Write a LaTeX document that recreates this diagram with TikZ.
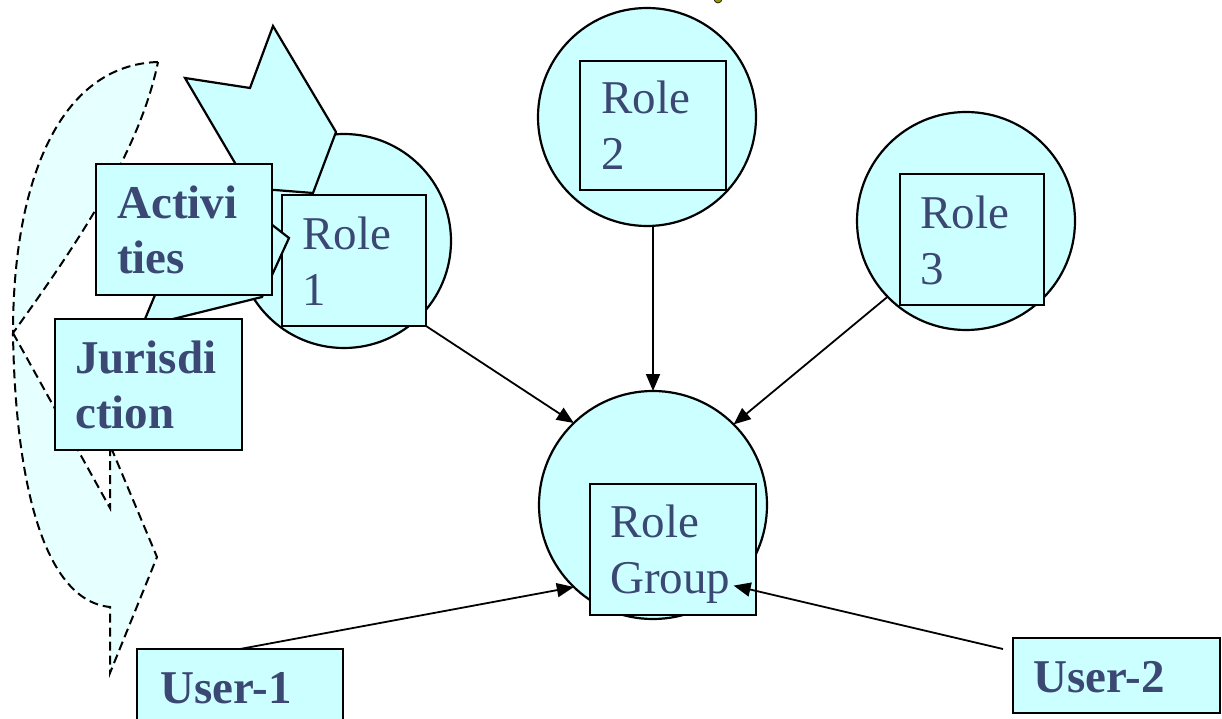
\documentclass[tikz,border=0pt]{standalone}
\usepackage{fontspec}
\setmainfont{Liberation Serif}
\usetikzlibrary{arrows.meta,calc}
\definecolor{cy}{RGB}{204,255,255}
\definecolor{lcy}{RGB}{230,255,255}
\definecolor{tx}{RGB}{59,72,115}
\definecolor{dot}{RGB}{150,150,0}
\begin{document}
\begin{tikzpicture}[x=1pt,y=-1pt,
  rolecirc/.style={circle,draw,line width=2.2pt,fill=cy,inner sep=0pt,outer sep=0pt,minimum size=#1},
  rolebox/.style={rectangle,draw,line width=2.2pt,fill=cy,inner sep=0pt,outer sep=0pt},
  lbl/.style={text=tx,font=\fontsize{47}{56}\selectfont,anchor=base west,align=left,inner sep=0pt},
  blbl/.style={text=tx,font=\fontsize{47}{55}\selectfont\bfseries,anchor=base west,align=left,inner sep=0pt},
  conn/.style={-{Triangle[length=17pt,width=14pt]},line width=1.8pt},
  dshape/.style={fill=lcy,draw,dash pattern=on 9pt off 5pt,line width=2pt,line join=miter},
  star/.style={fill=cy,draw,line width=2.2pt,line join=miter}
]
\useasboundingbox (0,0) rectangle (1222,719);
% small remnant dot at top
\filldraw[fill=dot,draw=black,line width=0.6pt] (718,-1) circle (4);
% dashed curved shape
\path[dshape] (158,62) .. controls (60,65) and (13,180) .. (13,333)
  .. controls (80,240) and (140,150) .. cycle;
\path[dshape] (13,333) -- (110,508) -- (110,445) -- (157,557) -- (110,673) -- (110,607)
  .. controls (40,600) and (15,470) .. cycle;
% Role 1
\node[rolecirc=214pt] (r1) at (344,241) {};
\node[rolebox,minimum width=144pt,minimum height=131pt] (r1box) at (354,260.5) {};
% star-like callout shape
\path[star] (273,26) -- (336,132) -- (313,193) -- (262,189) -- (262,217) -- (289,238)
  -- (262,297) -- (173,319) -- (170,330) -- (150,330) -- (145,319) -- (155,295)
  -- (160,283) -- (245,180) -- (185,78) -- (250,88) -- cycle;
% Activities / Jurisdiction boxes
\node[rolebox,minimum width=176pt,minimum height=131pt] (act) at (184,229.5) {};
\node[rolebox,minimum width=187pt,minimum height=131pt] (jur) at (148.5,384.5) {};
% Role 2, Role 3, Role Group
\node[rolecirc=218pt] (r2) at (647,117) {};
\node[rolebox,minimum width=146pt,minimum height=129pt] (r2box) at (653,125.5) {};
\node[rolecirc=218pt] (r3) at (966,221) {};
\node[rolebox,minimum width=144pt,minimum height=131pt] (r3box) at (972,239.5) {};
\node[rolecirc=228pt] (rg) at (653,505) {};
\node[rolebox,minimum width=166pt,minimum height=131pt] (rgbox) at (673,549.5) {};
% labels (anchor = baseline of last line)
\node[lbl] (r1t) at (302,305) {Role\\1};
\node[lbl] (r2t) at (601,170) {Role\\2};
\node[lbl] (r3t) at (920,284) {Role\\3};
\node[lbl] (rgt) at (610,593) {Role\\Group};
\node[blbl] (actt) at (117,273) {Activi\\ties};
\node[blbl] (jurt) at (75,428) {Jurisdi\\ction};
% user boxes
\node[rolebox,minimum width=206pt,minimum height=80pt] (u1) at (240,689) {};
\node[rolebox,minimum width=207pt,minimum height=75pt] (u2) at (1116.5,675.5) {};
\node[blbl] (u1t) at (160,703) {User-1};
\node[blbl] (u2t) at (1033,692) {User-2};
% connectors
\coordinate (u2a) at (1003,649);
\draw[conn] (r1box.south east) -- (rg.134);
\draw[conn] (r2.south -| rg.north) -- (rg.north);
\draw[conn] (r3.224) -- (rg.45);
\draw[conn] (u1.north) -- (rg.226);
\draw[conn] (u2a) -- (rg.315);
\end{tikzpicture}
\end{document}
